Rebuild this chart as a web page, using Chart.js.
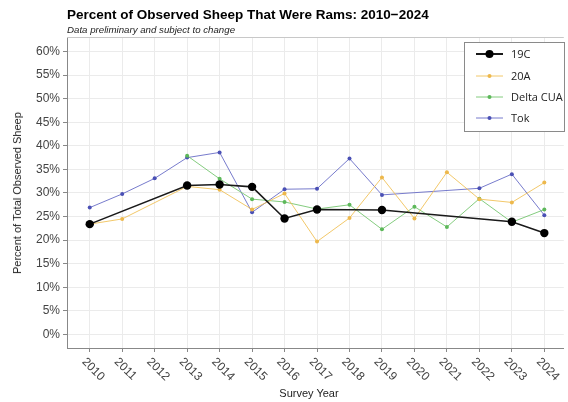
<!DOCTYPE html>
<html>
<head>
<meta charset="utf-8">
<script src="https://cdn.jsdelivr.net/npm/chart.js@4.4.1/dist/chart.umd.min.js"></script>
<style>
  html, body { margin: 0; padding: 0; background: #ffffff; }
  #wrap { position: relative; width: 568px; height: 402px; overflow: hidden; font-family: "Liberation Sans", Arial, sans-serif; }
  #c { position: absolute; left: 0; top: 0; }
  .t { position: absolute; white-space: nowrap; }
  #title { left: 67px; top: 7px; font-size: 13.5px; font-weight: bold; color: #000; }
  #subtitle { left: 67px; top: 24px; font-size: 9.7px; font-style: italic; color: #222; }
  #ytitle { left: 17px; top: 193px; font-size: 11px; color: #222; transform: translate(-50%, -50%) rotate(-90deg); }
  #xtitle { left: 309px; top: 393px; font-size: 11px; color: #222; transform: translate(-50%, -50%); }
</style>
</head>
<body>
<div id="wrap">
  <canvas id="c" width="568" height="402"></canvas>
  <div class="t" id="title">Percent of Observed Sheep That Were Rams: 2010−2024</div>
  <div class="t" id="subtitle">Data preliminary and subject to change</div>
  <div class="t" id="ytitle">Percent of Total Observed Sheep</div>
  <div class="t" id="xtitle">Survey Year</div>
</div>
<script>
// ---- data ----
const years = [2010, 2011, 2012, 2013, 2014, 2015, 2016, 2017, 2018, 2019, 2020, 2021, 2022, 2023, 2024];
const series19C   = [23.4, null, null, 31.6, 31.8, 31.3, 24.6, 26.5, null, 26.4, null, null, null, 23.9, 21.5];
const series20A   = [23.4, 24.5, null, 31.4, 30.7, 26.5, 29.9, 19.7, 24.7, 33.3, 24.6, 34.4, 28.7, 28.0, 32.2];
const seriesDelta = [null, null, null, 37.9, 33.0, 28.7, 28.1, 26.6, 27.5, 22.3, 27.1, 22.8, 28.8, 23.8, 26.5];
const seriesTok   = [26.9, 29.8, 33.1, 37.5, 38.6, 25.9, 30.8, 30.9, 37.3, 29.6, null, null, 31.0, 34.0, 25.3];
const seriesNames = ["19C", "20A", "Delta CUA", "Tok"];
const yTickValues = [0, 5, 10, 15, 20, 25, 30, 35, 40, 45, 50, 55, 60];

const toPoints = (vals) => years.map((yr, i) => ({ x: yr, y: vals[i] }));

const styles = [
  { line: "#1a1a1a", point: "#000000", lw: 1.6, r: 4.2 },
  { line: "rgba(240,190,80,0.85)", point: "#EDB84C", lw: 1, r: 2 },
  { line: "rgba(110,195,105,0.85)", point: "#5DB85A", lw: 1, r: 2 },
  { line: "rgba(95,100,195,0.85)", point: "#4A50B5", lw: 1, r: 2 }
];
const allSeries = [series19C, series20A, seriesDelta, seriesTok];

const datasets = allSeries.map((s, i) => ({
  label: seriesNames[i],
  data: toPoints(s),
  borderColor: styles[i].line,
  backgroundColor: styles[i].point,
  pointBackgroundColor: styles[i].point,
  pointBorderColor: styles[i].point,
  borderWidth: styles[i].lw,
  pointRadius: styles[i].r,
  pointBorderWidth: 0,
  spanGaps: true,
  tension: 0
}));

const FONT = '"Liberation Sans", Arial, sans-serif';

const panelPlugin = {
  id: "panel",
  beforeDatasetsDraw(chart) {
    const a = chart.chartArea, ctx = chart.ctx;
    ctx.save();
    ctx.strokeStyle = "#c8c8c8";
    ctx.lineWidth = 1;
    ctx.beginPath();
    ctx.moveTo(a.left, a.top + 0.5);
    ctx.lineTo(a.right, a.top + 0.5);
    ctx.stroke();
    ctx.restore();
  },
  afterDraw(chart) {
    const ctx = chart.ctx;
    const xs = chart.scales.x;
    // rotated x tick labels
    ctx.save();
    ctx.fillStyle = "#444";
    ctx.font = "12px " + FONT;
    ctx.textAlign = "left";
    ctx.textBaseline = "middle";
    years.forEach((yr) => {
      const px = xs.getPixelForValue(yr);
      ctx.save();
      ctx.translate(px - 6, chart.chartArea.bottom + 12);
      ctx.rotate(Math.PI / 4);
      ctx.fillText(String(yr), 0, 0);
      ctx.restore();
    });
    ctx.restore();

    // legend box
    const bx = 464, by = 42, bw = 100, bh = 89;
    ctx.save();
    ctx.fillStyle = "#fff";
    ctx.fillRect(bx, by, bw, bh);
    ctx.strokeStyle = "#8a8a8a";
    ctx.lineWidth = 1;
    ctx.strokeRect(bx + 0.5, by + 0.5, bw, bh);
    const rows = [54, 76, 97, 118];
    chart.data.datasets.forEach((ds, i) => {
      const y = rows[i];
      ctx.strokeStyle = ds.borderColor;
      ctx.lineWidth = i === 0 ? 2 : 1;
      ctx.beginPath();
      ctx.moveTo(476, y);
      ctx.lineTo(503, y);
      ctx.stroke();
      ctx.fillStyle = ds.pointBackgroundColor;
      ctx.beginPath();
      ctx.arc(489.5, y, i === 0 ? 4 : 2, 0, Math.PI * 2);
      ctx.fill();
      ctx.fillStyle = "#222";
      ctx.font = '11px "Open Sans", sans-serif';
      ctx.textAlign = "left";
      ctx.textBaseline = "middle";
      ctx.fillText(ds.label, 511, y + 1);
    });
    ctx.restore();
  }
};

new Chart(document.getElementById("c"), {
  type: "line",
  data: { datasets },
  options: {
    responsive: false,
    animation: false,
    layout: { padding: { top: 37, right: 2, bottom: 0, left: 0 } },
    plugins: { legend: { display: false }, tooltip: { enabled: false }, title: { display: false } },
    scales: {
      x: {
        type: "linear",
        min: 2009.3,
        max: 2024.6,
        afterBuildTicks: (axis) => { axis.ticks = years.map((v) => ({ value: v })); },
        afterFit: (axis) => { axis.height = 54; },
        ticks: { display: false },
        grid: { color: "#ebebeb", lineWidth: 1, drawTicks: true, tickLength: 4, tickColor: "#888" },
        border: { display: true, color: "#888", width: 1 }
      },
      y: {
        type: "linear",
        min: -2.86,
        max: 63.07,
        afterBuildTicks: (axis) => { axis.ticks = yTickValues.map((v) => ({ value: v })); },
        afterFit: (axis) => { axis.width = 67; },
        ticks: {
          callback: (v) => v + "%",
          color: "#444",
          font: { family: FONT, size: 12 },
          padding: 3
        },
        grid: { color: "#ebebeb", lineWidth: 1, drawTicks: true, tickLength: 4, tickColor: "#888" },
        border: { display: true, color: "#888", width: 1 }
      }
    }
  },
  plugins: [panelPlugin]
});
</script>
</body>
</html>
